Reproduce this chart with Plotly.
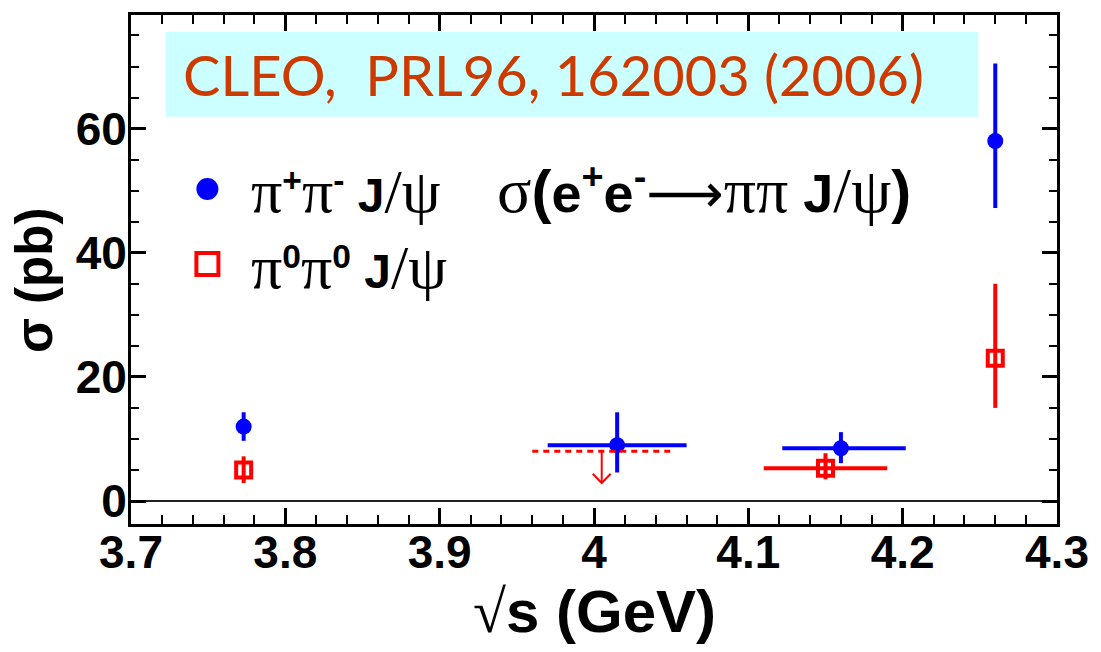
import plotly.graph_objects as go

# e+e- -> pi+ pi- J/psi cross sections (pb)
pc_x = [3.773, 4.015, 4.160, 4.260]
pc_y = [12.0, 9.0, 8.5, 58.0]
pc_yhi = [2.3, 5.3, 2.6, 12.5]
pc_ylo = [2.3, 4.4, 2.4, 10.8]
pc_xhi = [0.0, 0.045, 0.042, 0.0]
pc_xlo = [0.0, 0.045, 0.038, 0.0]

# e+e- -> pi0 pi0 J/psi cross sections (pb)
pn_x = [3.773, 4.150, 4.260]
pn_y = [5.0, 5.3, 23.0]
pn_yhi = [2.2, 2.4, 12.0]
pn_ylo = [2.1, 1.8, 8.0]
pn_xhi = [0.0, 0.040, 0.0]
pn_xlo = [0.0, 0.040, 0.0]

# pi0 pi0 J/psi upper limit over the 3.97-4.06 GeV scan
ul_x = 4.005
ul_y = 8.0
ul_xlo = 3.960
ul_xhi = 4.050

x_ticks = [3.7, 3.8, 3.9, 4.0, 4.1, 4.2, 4.3]
x_tick_text = ["3.7", "3.8", "3.9", "4", "4.1", "4.2", "4.3"]
y_ticks = [0, 20, 40, 60]

BLUE = "#0000ff"
RED = "#ff0000"
SERIF = "Liberation Serif"
SANS = "Liberation Sans"
GREEK = 62


def serif(s, size=GREEK):
    return (f'<span style="font-family:{SERIF};font-weight:normal;'
            f'font-size:{size}px">{s}</span>')


def sized(s, size):
    return f'<span style="font-size:{size}px">{s}</span>'


def thin(s, family="DejaVu Sans"):
    return f'<span style="font-family:{family};font-weight:normal">{s}</span>'


fig = go.Figure()

# pi+ pi- J/psi points
fig.add_trace(go.Scatter(
    x=pc_x, y=pc_y, mode="markers",
    marker=dict(symbol="circle", size=16, color=BLUE),
    error_y=dict(type="data", array=pc_yhi, arrayminus=pc_ylo,
                 color=BLUE, thickness=4, width=0),
    error_x=dict(type="data", array=pc_xhi, arrayminus=pc_xlo,
                 color=BLUE, thickness=4, width=0),
    showlegend=False,
))

# pi0 pi0 J/psi points
fig.add_trace(go.Scatter(
    x=pn_x, y=pn_y, mode="markers",
    marker=dict(symbol="square-open", size=15, color=RED,
                line=dict(width=4, color=RED)),
    error_y=dict(type="data", array=pn_yhi, arrayminus=pn_ylo,
                 color=RED, thickness=4, width=0),
    error_x=dict(type="data", array=pn_xhi, arrayminus=pn_xlo,
                 color=RED, thickness=4, width=0),
    showlegend=False,
))

# upper limit: dashed band plus a downward arrow
fig.add_trace(go.Scatter(
    x=[ul_xlo, ul_xhi], y=[ul_y, ul_y], mode="lines",
    line=dict(color=RED, width=3, dash="6px,5px"),
    showlegend=False,
))
arrow_len = 5.1
head_dx = 0.0058
head_dy = 1.5
tip = ul_y - arrow_len
fig.add_trace(go.Scatter(
    x=[ul_x, ul_x, None, ul_x - head_dx, ul_x, ul_x + head_dx],
    y=[ul_y, tip, None, tip + head_dy, tip, tip + head_dy],
    mode="lines", line=dict(color=RED, width=2),
    showlegend=False,
))

shapes = [
    # reference banner
    dict(type="rect", xref="paper", yref="paper",
         x0=0.0375, x1=0.915, y0=0.800, y1=0.967,
         fillcolor="#ccffff", line=dict(width=0), layer="below"),
    # legend symbols
    dict(type="circle", xref="paper", yref="paper",
         xsizemode="pixel", ysizemode="pixel",
         xanchor=0.0825, yanchor=0.658,
         x0=-11, x1=11, y0=-11, y1=11,
         fillcolor=BLUE, line=dict(width=0)),
    dict(type="rect", xref="paper", yref="paper",
         xsizemode="pixel", ysizemode="pixel",
         xanchor=0.0825, yanchor=0.511,
         x0=-11, x1=11, y0=-11, y1=11,
         fillcolor="white", line=dict(width=4, color=RED)),
]

LEG = 48
annotations = [
    dict(text="CLEO,  PRL96, 162003 (2006)", xref="paper", yref="paper",
         x=0.4566, y=0.8826, xanchor="center", yanchor="middle",
         showarrow=False,
         font=dict(family="Lato", size=56, color="#cc3a00")),
    dict(text=f"{serif('π')}<sup>+</sup>{serif('π')}<sup>-</sup> J{serif('/ψ')}",
         xref="paper", yref="paper", x=0.127, y=0.655,
         xanchor="left", yanchor="middle", showarrow=False,
         font=dict(family=SANS, size=LEG, color="black", weight="bold")),
    dict(text=f"{serif('π')}<sup>0</sup>{serif('π')}<sup>0</sup> J{serif('/ψ')}",
         xref="paper", yref="paper", x=0.127, y=0.505,
         xanchor="left", yanchor="middle", showarrow=False,
         font=dict(family=SANS, size=LEG, color="black", weight="bold")),
    dict(text=(f"{serif('σ', 64)}{sized('(', 60)}e<sup>+</sup>e<sup>-</sup>"
               f"{thin('⟶')}{serif('ππ', 64)} J{serif('/ψ', 64)}{sized(')', 60)}"),
         xref="paper", yref="paper", x=0.393, y=0.655,
         xanchor="left", yanchor="middle", showarrow=False,
         font=dict(family=SANS, size=54, color="black", weight="bold")),
    # axis titles
    dict(text=f"{serif('√', 60)}s (GeV)", xref="paper", yref="paper",
         x=0.5005, y=-0.172, xanchor="center", yanchor="middle",
         showarrow=False,
         font=dict(family=SANS, size=60, color="black", weight="bold")),
    dict(text="σ (pb)", xref="paper", yref="paper",
         x=-0.105, y=0.479, xanchor="center", yanchor="middle",
         textangle=-90, showarrow=False,
         font=dict(family=SANS, size=51, color="black", weight="bold")),
]

fig.update_layout(
    width=1101, height=652,
    margin=dict(l=131, r=37, t=13, b=128),
    paper_bgcolor="white", plot_bgcolor="white",
    shapes=shapes, annotations=annotations,
    showlegend=False,
)

fig.update_xaxes(
    range=[3.7, 4.3], tickvals=x_ticks, ticktext=x_tick_text,
    ticks="inside", ticklen=16, tickwidth=2.5, tickcolor="black",
    minor=dict(ticks="inside", ticklen=9, tickwidth=2, dtick=0.02,
               tick0=3.7, tickcolor="black"),
    showline=True, linewidth=3, linecolor="black", mirror="ticks",
    showgrid=False, zeroline=False, ticklabelstandoff=-14,
    tickfont=dict(family=SANS, size=46, color="black", weight="bold"),
)
fig.update_yaxes(
    range=[-3.7, 78.3], tickvals=y_ticks,
    ticks="inside", ticklen=15, tickwidth=2.5, tickcolor="black",
    minor=dict(ticks="inside", ticklen=8, tickwidth=2, dtick=5,
               tick0=0, tickcolor="black"),
    showline=True, linewidth=3, linecolor="black", mirror="ticks",
    showgrid=False, zeroline=True, zerolinecolor="#222222", zerolinewidth=1.5,
    ticklabelstandoff=-8,
    tickfont=dict(family=SANS, size=46, color="black", weight="bold"),
)

fig.write_html("out.html")
